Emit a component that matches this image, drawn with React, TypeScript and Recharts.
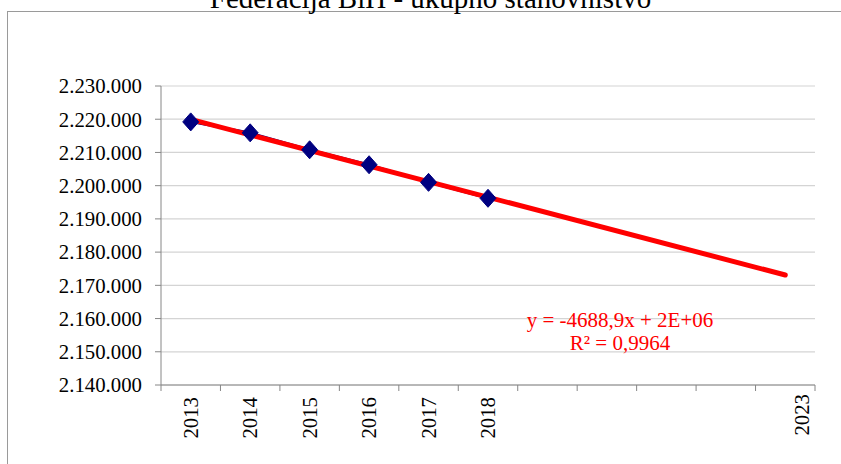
import React from 'react';
import { LineChart, Line, XAxis, YAxis, CartesianGrid } from 'recharts';

// ---- data ----
const years = [2013, 2014, 2015, 2016, 2017, 2018, 2019, 2020, 2021, 2022, 2023];
const populationYears = [2013, 2014, 2015, 2016, 2017, 2018];
const population = [2219200, 2215900, 2210800, 2206300, 2201000, 2196200];
const trendYears = [2013, 2023];
const trendValues = [2219950, 2173100];
const xTickLabels = [2013, 2014, 2015, 2016, 2017, 2018, 2023];
const xBoundaryTicks = [2012.5, 2013.5, 2014.5, 2015.5, 2016.5, 2017.5, 2018.5, 2019.5, 2020.5, 2021.5, 2022.5, 2023.5];
const yTicks = [2140000, 2150000, 2160000, 2170000, 2180000, 2190000, 2200000, 2210000, 2220000, 2230000];
const title = 'Federacija BiH - ukupno stanovništvo';
const trendEquation = 'y = -4688,9x + 2E+06';
const trendR2 = 'R² = 0,9964';

const data = years.map((year) => {
  const pi = populationYears.indexOf(year);
  const ti = trendYears.indexOf(year);
  return {
    year,
    population: pi >= 0 ? population[pi] : null,
    trend: ti >= 0 ? trendValues[ti] : null,
  };
});

const allXTicks = [...xBoundaryTicks, ...xTickLabels].sort((a, b) => a - b);

const FONT = '"Liberation Serif", "Times New Roman", serif';
const AXIS_COLOR = '#868686';
const GRID_COLOR = '#d4d4d4';

const fmt = (v: number) => String(v).replace(/\B(?=(\d{3})+(?!\d))/g, '.');

const Diamond = (props: any) => {
  const { cx, cy, index } = props;
  if (cx == null || cy == null) return <g key={`d-${index}`} />;
  return (
    <path
      key={`d-${index}`}
      d={`M${cx},${cy - 9} L${cx + 8},${cy} L${cx},${cy + 9} L${cx - 8},${cy} Z`}
      fill="#000080"
      stroke="#000080"
      strokeWidth={1}
    />
  );
};

// Ticks at category boundaries draw a tick mark; ticks at years draw the rotated label.
const XTick = (props: any) => {
  const { x, payload } = props;
  const axisY = 385;
  const value = payload.value;
  if (xBoundaryTicks.includes(value)) {
    return <line x1={x} x2={x} y1={axisY} y2={axisY + 6} stroke={AXIS_COLOR} strokeWidth={1} />;
  }
  const isLast = value === xTickLabels[xTickLabels.length - 1];
  const tx = x + (isLast ? 17 : 0);
  const ty = axisY + 12 + (isLast ? -3 : 0);
  return (
    <text
      x={tx}
      y={ty}
      transform={`rotate(-90, ${tx}, ${ty})`}
      textAnchor="end"
      dy="0.34em"
      fontSize={20.8}
      fontFamily={FONT}
      fill="#000"
    >
      {value}
    </text>
  );
};

export default function App() {
  return (
    <div
      style={{
        position: 'absolute',
        left: 0,
        top: 0,
        width: 841,
        height: 464,
        overflow: 'hidden',
        background: '#fff',
      }}
    >
      <div
        style={{
          position: 'absolute',
          left: 7,
          top: 11,
          width: 900,
          height: 600,
          border: '1px solid #9a9a9a',
          boxSizing: 'border-box',
        }}
      />
      <div style={{ position: 'absolute', left: 0, top: 0 }}>
        <LineChart
          width={841}
          height={464}
          data={data}
          margin={{ top: 86, right: 26, bottom: 0, left: 61 }}
        >
          <CartesianGrid horizontal vertical={false} stroke={GRID_COLOR} strokeWidth={1.2} />
          <XAxis
            dataKey="year"
            type="number"
            domain={[2012.5, 2023.5]}
            ticks={allXTicks}
            interval={0}
            tick={<XTick />}
            tickLine={false}
            axisLine={{ stroke: AXIS_COLOR }}
            height={79}
            allowDecimals
          />
          <YAxis
            type="number"
            domain={[2140000, 2230000]}
            ticks={yTicks}
            interval={0}
            width={100}
            tickFormatter={fmt}
            tickSize={6}
            tickMargin={13}
            tick={{ fontSize: 20.8, fontFamily: FONT, fill: '#000' }}
            tickLine={{ stroke: AXIS_COLOR }}
            axisLine={{ stroke: AXIS_COLOR }}
          />
          <Line
            dataKey="population"
            stroke="#000080"
            strokeWidth={2.5}
            dot={<Diamond />}
            activeDot={false}
            isAnimationActive={false}
          />
          <Line
            dataKey="trend"
            stroke="#ff0000"
            strokeWidth={5}
            strokeLinecap="round"
            connectNulls
            dot={false}
            activeDot={false}
            isAnimationActive={false}
          />
        </LineChart>
      </div>
      <svg
        width={841}
        height={464}
        style={{ position: 'absolute', left: 0, top: 0, pointerEvents: 'none' }}
      >
        <text x={430.5} y={8.3} textAnchor="middle" fontSize={29} fontFamily={FONT} fill="#000">
          {title}
        </text>
        <text x={620} y={327} textAnchor="middle" fontSize={21} fontFamily={FONT} fill="#ff0000">
          {trendEquation}
        </text>
        <text x={620} y={350} textAnchor="middle" fontSize={21} fontFamily={FONT} fill="#ff0000">
          {trendR2}
        </text>
      </svg>
    </div>
  );
}
